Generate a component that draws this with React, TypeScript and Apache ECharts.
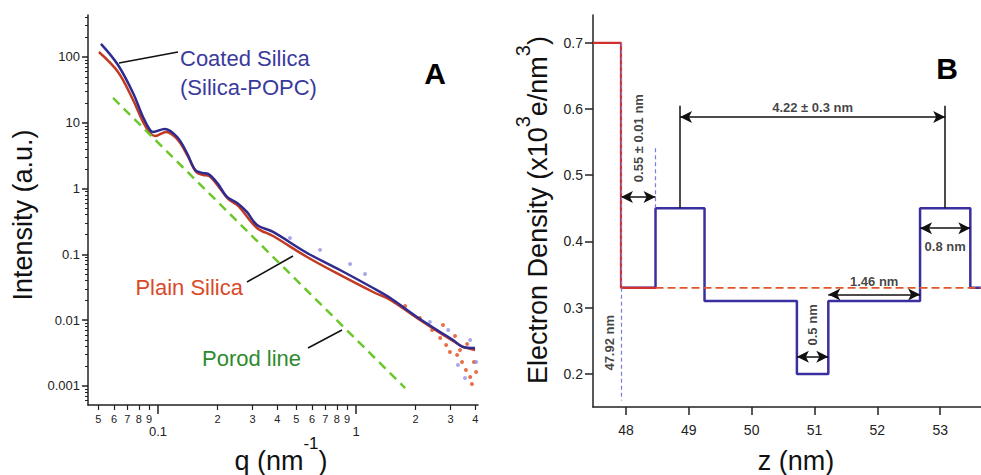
import React, { useEffect, useRef } from "react";
import * as echarts from "echarts";

const FONT = '"Liberation Sans", Arial, Helvetica, sans-serif';

// ---------- Panel A : SAXS intensity vs q (log-log) ----------
const qRange = [0.0443, 4.13];
const intensityRange = [0.000514, 434];
const qMajorTicks = [0.1, 1];
const qMinorTicks = [0.05, 0.06, 0.07, 0.08, 0.09, 0.2, 0.3, 0.4, 0.5, 0.6, 0.7, 0.8, 0.9, 2, 3, 4];
const intensityMajorTicks = [0.001, 0.01, 0.1, 1, 10, 100];
const intensityMajorLabels = ["0.001", "0.01", "0.1", "1", "10", "100"];

const coatedQ = [0.0515, 0.0628, 0.0748, 0.084, 0.0911, 0.0944, 0.108, 0.125, 0.14, 0.154, 0.167, 0.179, 0.199, 0.223, 0.251, 0.281, 0.316, 0.381, 0.566, 0.83, 1.22, 1.49, 2.03, 2.66, 3.09, 3.47, 3.99];
const coatedI = [158, 75.5, 28.4, 12.2, 7.78, 7.25, 8.05, 6.08, 3.47, 1.92, 1.73, 1.67, 1.22, 0.745, 0.604, 0.441, 0.28, 0.219, 0.105, 0.0579, 0.0308, 0.0217, 0.0112, 0.00662, 0.005, 0.00392, 0.00378];
const plainQ = [0.0503, 0.0628, 0.0748, 0.084, 0.0911, 0.0966, 0.11, 0.126, 0.142, 0.156, 0.169, 0.181, 0.201, 0.226, 0.254, 0.316, 0.381, 0.566, 0.83, 1.22, 1.49, 2.03, 2.66, 3.09, 3.47, 3.99];
const plainI = [119, 59.2, 22.2, 10.3, 7.0, 6.3, 7.25, 5.48, 3.02, 1.79, 1.61, 1.55, 1.1, 0.695, 0.545, 0.252, 0.19, 0.0912, 0.0487, 0.0268, 0.0203, 0.0108, 0.00639, 0.00483, 0.00392, 0.00353];
const porodQ = [0.0593, 1.77];
const porodI = [23.8, 0.00093];

const plainScatterQ = [2.1, 2.42, 2.66, 2.85, 2.98, 3.24, 3.43, 3.59, 3.77, 3.85, 3.94, 4.04, 3.16, 2.75, 1.77, 1.57, 3.64, 3.35];
const plainScatterI = [0.0108, 0.0071, 0.00537, 0.0042, 0.00329, 0.00296, 0.00232, 0.00175, 0.00137, 0.00107, 0.00232, 0.00163, 0.00575, 0.00845, 0.0164, 0.0189, 0.00434, 0.00352];
const coatedScatterQ = [0.464, 0.658, 0.933, 1.11, 2.36, 2.92, 3.27, 3.55, 4.04, 3.77];
const coatedScatterI = [0.177, 0.117, 0.0715, 0.0503, 0.0094, 0.0071, 0.00208, 0.00132, 0.00232, 0.005];

// ---------- Panel B : electron density profile ----------
const zRange = [47.475, 53.65];
const densityRange = [0.15, 0.742];
const zTicks = [48, 49, 50, 51, 52, 53];
const densityTicks = [0.2, 0.3, 0.4, 0.5, 0.6, 0.7];
const coreDensity = 0.7;
const waterDensity = 0.33;
const layerZ = [47.92, 48.47, 49.25, 50.72, 51.22, 52.68, 53.48];
const coatedDensity = [0.33, 0.45, 0.31, 0.2, 0.31, 0.45, 0.33];

const lg = Math.log10;
const toLogPairs = (qs: number[], is: number[]) => qs.map((q, i) => [lg(q), lg(is[i])]);

function measure(text: string, size: number, weight = "normal") {
  const ctx = document.createElement("canvas").getContext("2d")!;
  ctx.font = `${weight} ${size}px ${FONT}`;
  return ctx.measureText(text).width;
}

type Seg = { text: string; size: number; raise?: number };
function titleGroup(segs: Seg[], x: number, y: number, rotation = 0, color = "#111") {
  const widths = segs.map((s) => measure(s.text, s.size));
  const total = widths.reduce((a, b) => a + b, 0);
  let cx = -total / 2;
  const children = segs.map((s, i) => {
    const el = {
      type: "text",
      x: cx,
      y: -(s.raise || 0) - 0.3465 * s.size,
      style: {
        text: s.text,
        fontSize: s.size,
        fontFamily: FONT,
        fill: color,
        align: "left",
        textAlign: "left",
        verticalAlign: "middle",
        textVerticalAlign: "middle",
      },
    };
    cx += widths[i];
    return el;
  });
  return { type: "group", x, y, rotation, silent: true, children };
}

function label(text: string, x: number, y: number, size: number, color: string, align = "left", weight = "normal") {
  return {
    type: "text",
    x,
    y,
    silent: true,
    style: {
      text,
      fontSize: size,
      fontFamily: FONT,
      fontWeight: weight,
      fill: color,
      align,
      textAlign: align,
      verticalAlign: "middle",
      textVerticalAlign: "middle",
    },
  };
}

function leader(x1: number, y1: number, x2: number, y2: number) {
  return { type: "line", silent: true, shape: { x1, y1, x2, y2 }, style: { stroke: "#111", lineWidth: 1.5 } };
}

function buildOption() {
  const axisColor = "#222";
  const headA = (layerZ[1] + layerZ[2]) / 2;
  const headB = (layerZ[5] + layerZ[6]) / 2;

  const coatedStep = layerZ.map((z, i) => [z, coatedDensity[i]]);
  coatedStep.push([zRange[1], waterDensity]);

  const arrow = (z1: number, z2: number, y: number) => [
    { coord: [z1, y], symbol: "arrow" },
    { coord: [z2, y], symbol: "arrow" },
  ];
  const plainLine = (z: number, y1: number, y2: number, style?: any) => [
    { coord: [z, y1], symbol: "none", lineStyle: style },
    { coord: [z, y2], symbol: "none", lineStyle: style },
  ];
  const dashBlue = { color: "#7b7bd8", width: 1.2, type: [4, 3] };

  const annotations = [
    { name: "0.55 ± 0.01 nm", value: [(layerZ[0] + layerZ[1]) / 2, 0.556], rot: 90 },
    { name: "4.22 ± 0.3 nm", value: [(headA + headB) / 2, 0.602], rot: 0 },
    { name: "0.5 nm", value: [(layerZ[3] + layerZ[4]) / 2, 0.274], rot: 90 },
    { name: "1.46 nm", value: [(layerZ[4] + layerZ[5]) / 2, 0.339], rot: 0 },
    { name: "0.8 nm", value: [(layerZ[5] + layerZ[6]) / 2, 0.393], rot: 0 },
    { name: "47.92 nm", value: [47.73, 0.247], rot: 90 },
  ];

  const baseAxis = {
    splitLine: { show: false },
    axisLine: { show: true, onZero: false, lineStyle: { color: axisColor, width: 1.5 } },
  };

  return {
    animation: false,
    backgroundColor: "#fff",
    textStyle: { fontFamily: FONT },
    grid: [
      { left: 88, top: 15, width: 390, height: 390 },
      { left: 593, top: 15, width: 388, height: 392 },
    ],
    xAxis: [
      {
        ...baseAxis,
        gridIndex: 0,
        type: "value",
        position: "bottom",
        min: lg(qRange[0]),
        max: lg(qRange[1]),
        axisTick: { show: true, customValues: qMajorTicks.map(lg), length: 9, lineStyle: { color: axisColor, width: 1.5 } },
        axisLabel: {
          customValues: qMajorTicks.map(lg),
          formatter: (v: number) => String(Math.pow(10, Math.round(v))),
          margin: 20,
          fontSize: 13,
          color: axisColor,
        },
      },
      {
        gridIndex: 0,
        type: "value",
        position: "bottom",
        min: lg(qRange[0]),
        max: lg(qRange[1]),
        splitLine: { show: false },
        axisLine: { show: false, onZero: false },
        axisTick: { show: true, customValues: qMinorTicks.map(lg), length: 5, lineStyle: { color: axisColor, width: 1.2 } },
        axisLabel: {
          customValues: qMinorTicks.map(lg),
          formatter: (v: number) => String(Math.round(Math.pow(10, v) / Math.pow(10, Math.floor(v + 1e-9)))),
          margin: 8,
          fontSize: 11,
          color: axisColor,
        },
      },
      {
        ...baseAxis,
        gridIndex: 1,
        type: "value",
        position: "bottom",
        min: zRange[0],
        max: zRange[1],
        axisTick: { show: true, customValues: zTicks, length: 8, lineStyle: { color: axisColor, width: 1.5 } },
        axisLabel: { customValues: zTicks, margin: 16, fontSize: 14, color: axisColor },
      },
    ],
    yAxis: [
      {
        ...baseAxis,
        gridIndex: 0,
        type: "value",
        position: "left",
        min: lg(intensityRange[0]),
        max: lg(intensityRange[1]),
        axisTick: { show: true, customValues: intensityMajorTicks.map(lg), length: 6, lineStyle: { color: axisColor, width: 1.5 } },
        axisLabel: {
          customValues: intensityMajorTicks.map(lg),
          formatter: (v: number) => intensityMajorLabels[Math.round(v) + 3],
          margin: 8,
          fontSize: 13,
          color: axisColor,
        },
      },
      {
        gridIndex: 0,
        type: "value",
        position: "left",
        min: lg(intensityRange[0]),
        max: lg(intensityRange[1]),
        splitLine: { show: false },
        axisLine: { show: false, onZero: false },
        axisTick: {
          show: true,
          customValues: (() => {
            const out: number[] = [];
            for (let p = -4; p <= 2; p++) for (let m = 2; m <= 9; m++) out.push(lg(m) + p);
            return out.filter((v) => v >= lg(intensityRange[0]) && v <= lg(intensityRange[1]));
          })(),
          length: 3,
          lineStyle: { color: axisColor, width: 1 },
        },
        axisLabel: { show: false },
      },
      {
        ...baseAxis,
        gridIndex: 1,
        type: "value",
        position: "left",
        min: densityRange[0],
        max: densityRange[1],
        axisTick: { show: true, customValues: densityTicks, length: 8, lineStyle: { color: axisColor, width: 1.5 } },
        axisLabel: {
          customValues: densityTicks,
          formatter: (v: number) => v.toFixed(1),
          margin: 10,
          fontSize: 14,
          color: axisColor,
        },
      },
    ],
    series: [
      {
        name: "Plain Silica data",
        type: "scatter",
        xAxisIndex: 0,
        yAxisIndex: 0,
        symbolSize: 4,
        itemStyle: { color: "#e4572e", opacity: 0.85 },
        data: toLogPairs(plainScatterQ, plainScatterI),
        silent: true,
      },
      {
        name: "Coated Silica data",
        type: "scatter",
        xAxisIndex: 0,
        yAxisIndex: 0,
        symbolSize: 4,
        itemStyle: { color: "#8585e0", opacity: 0.7 },
        data: toLogPairs(coatedScatterQ, coatedScatterI),
        silent: true,
      },
      {
        name: "Plain Silica",
        type: "line",
        xAxisIndex: 0,
        yAxisIndex: 0,
        showSymbol: false,
        smooth: 0.35,
        lineStyle: { color: "#c13a22", width: 2.5 },
        data: toLogPairs(plainQ, plainI),
        silent: true,
      },
      {
        name: "Coated Silica",
        type: "line",
        xAxisIndex: 0,
        yAxisIndex: 0,
        showSymbol: false,
        smooth: 0.35,
        lineStyle: { color: "#2f2b90", width: 2.5 },
        data: toLogPairs(coatedQ, coatedI),
        silent: true,
      },
      {
        name: "Porod line",
        type: "line",
        xAxisIndex: 0,
        yAxisIndex: 0,
        showSymbol: false,
        lineStyle: { color: "#6cc72a", width: 2.5, type: [9, 6] },
        data: toLogPairs(porodQ, porodI),
        silent: true,
      },
      // Panel B
      {
        name: "Coated profile",
        type: "line",
        xAxisIndex: 2,
        yAxisIndex: 2,
        step: "end",
        showSymbol: false,
        lineStyle: { color: "#3a2f9e", width: 2.5 },
        data: coatedStep,
        silent: true,
        z: 2,
        markLine: {
          silent: true,
          symbol: ["arrow", "arrow"],
          symbolSize: [9, 12],
          lineStyle: { color: "#111", width: 1.5, type: "solid" },
          label: { show: false },
          data: [
            arrow(layerZ[0], layerZ[1], 0.467),
            arrow(headA, headB, 0.588),
            arrow(layerZ[3], layerZ[4], 0.226),
            arrow(layerZ[4], layerZ[5], 0.32),
            arrow(layerZ[5], layerZ[6], 0.42),
            plainLine(headA, coatedDensity[1], 0.605),
            plainLine(headB, coatedDensity[5], 0.605),
            plainLine(layerZ[1], coatedDensity[1], 0.545, dashBlue),
          ],
        },
      },
      {
        name: "Silica core",
        type: "line",
        xAxisIndex: 2,
        yAxisIndex: 2,
        step: "end",
        showSymbol: false,
        lineStyle: { color: "#d2302c", width: 2.2 },
        data: [
          [zRange[0], coreDensity],
          [layerZ[0], waterDensity],
          [layerZ[1], waterDensity],
        ],
        silent: true,
        z: 3,
      },
      {
        name: "Plain profile",
        type: "line",
        xAxisIndex: 2,
        yAxisIndex: 2,
        showSymbol: false,
        lineStyle: { color: "#e2552c", width: 1.8, type: [8, 4] },
        data: [
          [layerZ[1], waterDensity],
          [zRange[1], waterDensity],
        ],
        silent: true,
        z: 4,
        markLine: {
          silent: true,
          symbol: ["none", "none"],
          label: { show: false },
          lineStyle: dashBlue,
          data: [plainLine(layerZ[0], coreDensity, 0.16, dashBlue)],
        },
      },
      {
        name: "Annotations",
        type: "scatter",
        xAxisIndex: 2,
        yAxisIndex: 2,
        symbolSize: 0,
        silent: true,
        z: 5,
        data: annotations.map((a) => ({
          name: a.name,
          value: a.value,
          label: { rotate: a.rot },
        })),
        label: {
          show: true,
          position: "inside",
          formatter: (p: any) => p.name,
          color: "#111",
          fontWeight: "bold",
          fontSize: 13,
          fontFamily: FONT,
        },
      },
    ],
    graphic: [
      // Panel A titles
      titleGroup([{ text: "Intensity (a.u.)", size: 27 }], 32, 215, Math.PI / 2, "#111"),
      titleGroup(
        [
          { text: "q (nm", size: 27 },
          { text: "-1", size: 17, raise: 21 },
          { text: ")", size: 27 },
        ],
        281,
        470,
        0,
        "#111"
      ),
      // Panel B titles
      titleGroup(
        [
          { text: "Electron Density (x10", size: 27 },
          { text: "3", size: 20, raise: 17 },
          { text: "e/nm", size: 27 },
          { text: "3", size: 20, raise: 17 },
          { text: ")", size: 27 },
        ],
        547,
        210,
        Math.PI / 2,
        "#111"
      ),
      titleGroup([{ text: "z (nm)", size: 27 }], 796, 470, 0, "#111"),
      // Panel letters
      label("A", 435, 73, 30, "#000", "center", "bold"),
      label("B", 947, 68, 30, "#000", "center", "bold"),
      // Panel A annotations
      label("Coated Silica", 180, 58, 22, "#3a3a9c"),
      label("(Silica-POPC)", 180, 87, 22, "#3a3a9c"),
      label("Plain Silica", 243, 287, 22, "#d94a2a", "right"),
      label("Porod line", 202, 358, 22, "#2e8b2e"),
      leader(178, 52, 119, 63),
      leader(247, 282, 293, 256),
      leader(308, 348, 342, 330),
    ],
  };
}

export default function App() {
  const ref = useRef<HTMLDivElement>(null);
  useEffect(() => {
    const chart = echarts.init(ref.current!, null, { renderer: "svg" });
    chart.setOption(buildOption() as any);
    return () => chart.dispose();
  }, []);
  return (
    <div
      ref={ref}
      style={{ position: "fixed", left: 0, top: 0, width: 981, height: 475, background: "#fff" }}
    />
  );
}
